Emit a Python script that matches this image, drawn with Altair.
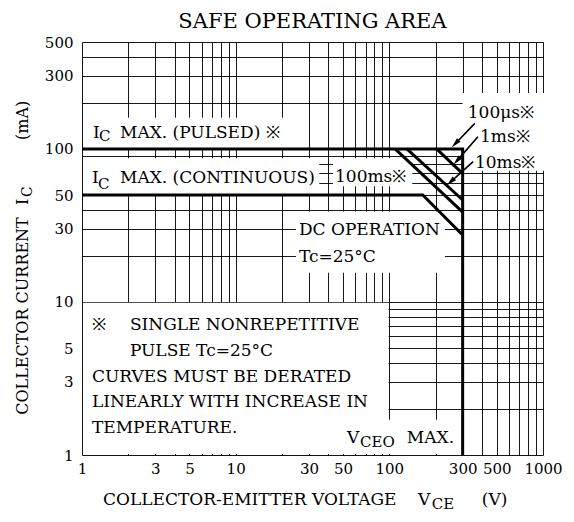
import math
import altair as alt
import pandas as pd

FONT = "DejaVu Serif"
W, H = 461, 413

# ---- axes -------------------------------------------------------------
x_grid = [1, 2, 3, 4, 5, 6, 7, 8, 9, 10, 20, 30, 40, 50, 60, 70, 80, 90,
          100, 200, 300, 400, 500, 600, 700, 800, 900, 1000]
x_labels = [1, 3, 5, 10, 30, 50, 100, 300, 500, 1000]
y_grid = [1, 2, 3, 4, 5, 6, 7, 8, 9, 10, 20, 30, 40, 50, 60, 70, 80, 90,
          100, 200, 300, 400, 500]
y_labels = [1, 3, 5, 10, 30, 50, 100, 300, 500]

# ---- SOA boundary curves (V_CE in V, I_C in mA) -----------------------
curve_names = ["100us", "1ms", "10ms", "100ms", "DC"]
curve_v = [[1, 300, 300], [203, 300], [130, 300], [109, 300], [1, 165, 300]]
curve_i = [[100, 100, 1], [100, 69], [100, 46.4], [100, 38.7], [50, 50, 27.4]]

# ---- white label backgrounds (V, mA) ----------------------------------
mask_v1 = [1.015, 1.015, 43, 24.7, 1.015, 1.015, 300]
mask_v2 = [24, 35, 141, 230, 99, 300, 1060]
mask_i1 = [100, 50, 57, 15.5, 1.015, 1.015, 72]
mask_i2 = [160, 87, 87, 39, 9.9, 1.7, 232]

# ---- arrows pointing at the pulse curves -------------------------------
arrow_names = ["100us", "1ms", "10ms"]
arrow_start_v = [360, 377, 351]
arrow_start_i = [147, 120, 82.6]
arrow_tip_v = [255, 262, 237]
arrow_tip_i = [102.5, 79, 58]

# ---- text annotations --------------------------------------------------
ann_text = ["SAFE OPERATING AREA",
            "I", "C", "MAX. (PULSED) \u203b",
            "I", "C", "MAX. (CONTINUOUS)",
            "100ms\u203b", "DC OPERATION", "Tc=25\u00b0C",
            "100\u03bcs\u203b", "1ms\u203b", "10ms\u203b",
            "\u203b", "SINGLE NONREPETITIVE", "PULSE Tc=25\u00b0C",
            "CURVES MUST BE DERATED", "LINEARLY WITH INCREASE IN", "TEMPERATURE.",
            "V", "CEO", "MAX.",
            "COLLECTOR-EMITTER VOLTAGE", "V", "CE", "(V)"]
ann_v = [31.6,
         1.179, 1.29, 1.767,
         1.162, 1.27, 1.767,
         44.3, 25.8, 25.8,
         324, 389, 360.5,
         1.16, 2.05, 2.05,
         1.16, 1.16, 1.16,
         53, 64.4, 130,
         1.37, 153.5, 189, 400]
ann_i = [620,
         118, 112.8, 118,
         59.9, 54.8, 59.9,
         60.9, 27.4, 18.3,
         159.6, 111, 75.1,
         6.56, 6.56, 4.44,
         3.0, 2.06, 1.39,
         1.2, 1.128, 1.2,
         0.471, 0.471, 0.444, 0.471]
ann_size = [21,
            17, 15, 17,
            17, 15, 17,
            17, 17, 17,
            17, 17, 17,
            17, 17, 17,
            17, 17, 17,
            17, 15, 17,
            17, 17, 15, 17]
ann_align = ["center"] + ["left"] * 25

# rotated y-axis title pieces
ytitle_text = ["COLLECTOR CURRENT", "I", "C", "(mA)"]
ytitle_v = [0.442, 0.442, 0.47, 0.442]
ytitle_i = [1.83, 43.0, 48.6, 114.5]
ytitle_size = [16, 16, 14, 16]

# ---- build tables -------------------------------------------------------
rows = []
for name, vs, cs in zip(curve_names, curve_v, curve_i):
    for k, (v, c) in enumerate(zip(vs, cs)):
        rows.append({"name": name, "x": v, "y": c, "k": k})
curves_df = pd.DataFrame(rows)

mask_df = pd.DataFrame({"x": mask_v1, "x2": mask_v2, "y": mask_i1, "y2": mask_i2})

px_x = W / math.log10(1000 / 1)
px_y = H / math.log10(500 / 1)
arow, hrow = [], []
for n, sv, si, tv, ti in zip(arrow_names, arrow_start_v, arrow_start_i, arrow_tip_v, arrow_tip_i):
    vx = (math.log10(tv) - math.log10(sv)) * px_x
    vy = -(math.log10(ti) - math.log10(si)) * px_y
    ln = math.hypot(vx, vy)
    ux, uy = vx / ln, vy / ln
    back = 5.0
    hx = 10 ** (math.log10(tv) - ux * back / px_x)
    hy = 10 ** (math.log10(ti) + uy * back / px_y)
    ang = math.degrees(math.atan2(vx, -vy)) % 360
    arow.append({"name": n, "x": sv, "y": si, "k": 0})
    arow.append({"name": n, "x": hx, "y": hy, "k": 1})
    hrow.append({"name": n, "x": hx, "y": hy, "ang": ang})
arrow_df = pd.DataFrame(arow)
head_df = pd.DataFrame(hrow)

ann_df = pd.DataFrame({"t": ann_text, "x": ann_v, "y": ann_i, "s": ann_size, "a": ann_align})
yt_df = pd.DataFrame({"t": ytitle_text, "x": ytitle_v, "y": ytitle_i, "s": ytitle_size})

# ---- scales / axes ------------------------------------------------------
xs = alt.Scale(type="log", domain=[1, 1000], nice=False)
ys = alt.Scale(type="log", domain=[1, 500], nice=False)

common_axis = dict(grid=True, gridColor="black", gridWidth=1, gridOpacity=0.9,
                   ticks=False, tickSize=0, domain=False, labelFont=FONT,
                   labelFontSize=15, labelColor="black", labelOverlap=False,
                   labelFlush=False, title=None)
x_axis = alt.Axis(values=x_grid,
                  labelExpr=f"indexof({x_labels}, datum.value) >= 0 ? '' + datum.value : ''",
                  labelPadding=6, **common_axis)
y_axis = alt.Axis(values=y_grid,
                  labelExpr=f"indexof({y_labels}, datum.value) >= 0 ? '' + datum.value : ''",
                  labelPadding=9, **common_axis)

X = alt.X("x:Q", scale=xs, axis=x_axis)
Y = alt.Y("y:Q", scale=ys, axis=y_axis)

masks = alt.Chart(mask_df).mark_rect(color="white", opacity=1).encode(
    x=X, x2="x2:Q", y=Y, y2="y2:Q")

curves = alt.Chart(curves_df).mark_line(
    color="black", strokeWidth=3, strokeJoin="miter", strokeCap="butt").encode(
    x=X, y=Y, detail="name:N", order="k:Q")

arrows = alt.Chart(arrow_df).mark_line(color="black", strokeWidth=1.6).encode(
    x=X, y=Y, detail="name:N", order="k:Q")

heads = alt.Chart(head_df).mark_point(
    shape="M0,-1L0.5,1L-0.5,1Z", filled=True, color="black", opacity=1,
    size=100, strokeWidth=0).encode(
    x=X, y=Y, angle=alt.Angle("ang:Q", scale=None))

texts_left = alt.Chart(ann_df).transform_filter("datum.a == 'left'").mark_text(
    align="left", baseline="alphabetic", font=FONT, color="black").encode(
    x=X, y=Y, text="t:N", size=alt.Size("s:Q", scale=None))

texts_center = alt.Chart(ann_df).transform_filter("datum.a == 'center'").mark_text(
    align="center", baseline="alphabetic", font=FONT, color="black").encode(
    x=X, y=Y, text="t:N", size=alt.Size("s:Q", scale=None))

ytexts = alt.Chart(yt_df).mark_text(
    align="left", baseline="alphabetic", font=FONT, color="black", angle=270).encode(
    x=X, y=Y, text="t:N", size=alt.Size("s:Q", scale=None))

chart = alt.layer(masks, curves, arrows, heads, texts_left, texts_center, ytexts).properties(
    width=W, height=H,
    autosize=alt.AutoSizeParams(type="none"),
    padding={"left": 74, "top": 34, "right": 23, "bottom": 59},
).configure_view(stroke="black", strokeWidth=2).configure(background="white")

chart.save("out.html", embed_options={"renderer": "svg", "actions": False})
